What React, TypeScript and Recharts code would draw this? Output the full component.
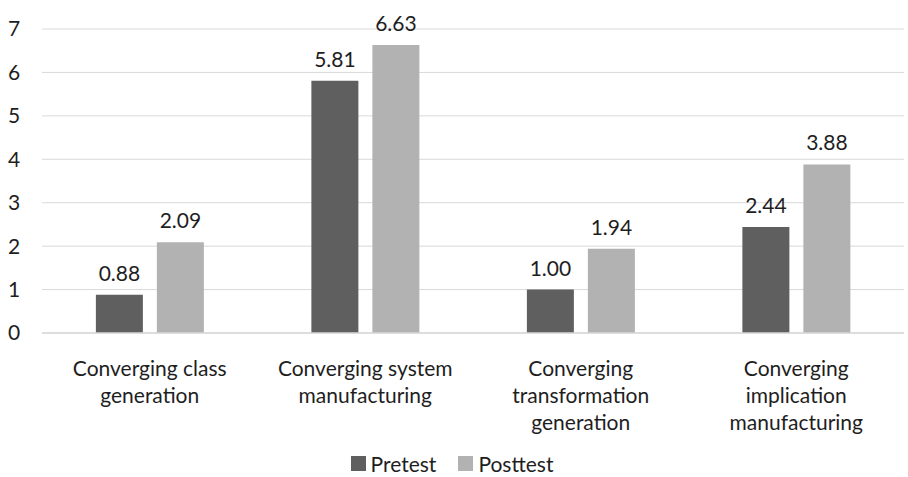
import { BarChart, Bar, XAxis, YAxis, CartesianGrid, Legend, LabelList } from 'recharts';

const categories = [
  'Converging class generation',
  'Converging system manufacturing',
  'Converging transformation generation',
  'Converging implication manufacturing',
];
// how each category name wraps under the axis
const categoryLines = [
  ['Converging class', 'generation'],
  ['Converging system', 'manufacturing'],
  ['Converging', 'transformation', 'generation'],
  ['Converging', 'implication', 'manufacturing'],
];
const pretest = [0.88, 5.81, 1.0, 2.44];
const posttest = [2.09, 6.63, 1.94, 3.88];
const yTicks = [0, 1, 2, 3, 4, 5, 6, 7];

const FONT = 'Lato, "Open Sans", sans-serif';
const FS = 21;
const TEXT = '#1e1e1e';
const DARK = '#5f5f5f';
const LIGHT = '#b2b2b2';

const data = categories.map((name, i) => ({
  name,
  Pretest: pretest[i],
  Posttest: posttest[i],
}));

function CategoryTick(props: any) {
  const { x, y, payload, index } = props;
  const lines = categoryLines[index] ?? [payload.value];
  return (
    <text x={x} y={y} textAnchor="middle" fill={TEXT} fontSize={FS} fontFamily={FONT}>
      {lines.map((l: string, i: number) => (
        <tspan key={i} x={x} dy={i === 0 ? 35 : 27}>{l}</tspan>
      ))}
    </text>
  );
}

function LegendBox() {
  const items = [
    { label: 'Pretest', color: DARK },
    { label: 'Posttest', color: LIGHT },
  ];
  return (
    <div style={{ display: 'flex', justifyContent: 'center', gap: 22, fontFamily: FONT, fontSize: FS, color: TEXT }}>
      {items.map(it => (
        <div key={it.label} style={{ display: 'flex', alignItems: 'center' }}>
          <span style={{ width: 15, height: 15, background: it.color, marginRight: 5, display: 'inline-block' }} />
          {it.label}
        </div>
      ))}
    </div>
  );
}

const fmt = (v: any) => Number(v).toFixed(2);

export default function App() {
  return (
    <div style={{ position: 'absolute', left: 0, top: 0, background: '#fff' }}>
      <BarChart
        width={908}
        height={477}
        data={data}
        margin={{ top: 29, right: 4, bottom: 0, left: 0 }}
        barCategoryGap="25%"
        barGap={14}
      >
        <CartesianGrid vertical={false} stroke="#d9d9d9" strokeWidth={1} />
        <XAxis
          dataKey="name"
          height={118}
          axisLine={{ stroke: '#d9d9d9', strokeWidth: 1.5 }}
          tickLine={false}
          tick={<CategoryTick />}
          interval={0}
        />
        <YAxis
          width={42}
          domain={[0, 7]}
          ticks={yTicks}
          axisLine={false}
          tickLine={false}
          tick={{ fill: TEXT, fontSize: FS, fontFamily: FONT, textAnchor: 'start', dx: -26 }}
        />
        <Legend verticalAlign="bottom" height={26} content={<LegendBox />} />
        <Bar dataKey="Pretest" fill={DARK} isAnimationActive={false}>
          <LabelList dataKey="Pretest" position="top" offset={14} formatter={fmt} fill={TEXT} fontSize={FS} fontFamily={FONT} />
        </Bar>
        <Bar dataKey="Posttest" fill={LIGHT} isAnimationActive={false}>
          <LabelList dataKey="Posttest" position="top" offset={14} formatter={fmt} fill={TEXT} fontSize={FS} fontFamily={FONT} />
        </Bar>
      </BarChart>
    </div>
  );
}
